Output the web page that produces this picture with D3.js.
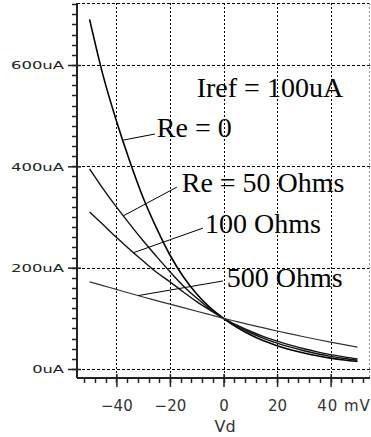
<!DOCTYPE html>
<html><head><meta charset="utf-8">
<script src="https://cdn.jsdelivr.net/npm/d3@7"></script>
<style>
html,body{margin:0;padding:0;background:#fff;}
svg{display:block;}
</style></head><body>
<svg id="chart" width="371" height="437"></svg>
<script>
// Collector current vs. differential input voltage, for several emitter resistors
const vd    = [-50, -45, -40, -35, -30, -25, -20, -15, -10, -5, 0, 5, 10, 15, 20, 25, 30, 35, 40, 45, 50];
const re0   = [690, 580, 490, 410, 338, 278, 225, 182, 148, 121, 100, 82, 67.5, 55.5, 46, 38, 31.5, 26, 21.5, 17.8, 14.8];
const re50  = [395, 356, 320, 286, 253, 222, 192, 164, 140, 118, 100, 84.5, 71.5, 60.5, 51, 43, 36, 30, 25, 20.8, 17.2];
const re100 = [310, 285, 260, 236, 213, 191, 172, 152, 133, 116, 100, 86.5, 74.5, 64, 55, 47, 40, 33.8, 28.4, 23.8, 19.8];
const re500 = [172, 164.5, 157, 149.5, 142, 135, 128, 121, 114, 107, 100, 93.5, 87, 81, 75, 69.2, 63.6, 58.2, 53, 48, 43.3];
const seriesNames = ["Re = 0", "Re = 50 Ohms", "100 Ohms", "500 Ohms"];
const yTickValues = [0, 200, 400, 600];
const xTickValues = [-40, -20, 0, 20, 40];
const titleText = "Iref = 100uA";
const xTitle = "Vd";

(function () {
  const series = [re0, re50, re100, re500].map((vals, i) => ({
    name: seriesNames[i],
    points: vd.map((v, j) => ({ v, i: vals[j] }))
  }));

  // plot frame
  const pLeft = 77, pRight = 370, pTop = 3, pBottom = 378;
  const x = d3.scaleLinear().domain([-54.7, 54.7]).range([pLeft, pRight]);
  const y = d3.scaleLinear().domain([-17.8, 722.4]).range([pBottom, pTop]);

  const svg = d3.select("#chart");

  // dotted grid
  const grid = svg.append("g").attr("stroke", "#000").attr("stroke-width", 1).attr("fill", "none");
  grid.selectAll("line.h").data(yTickValues.concat([y.domain()[1]])).join("line")
    .attr("x1", pLeft).attr("x2", pRight)
    .attr("y1", d => Math.round(y(d)) + 0.5).attr("y2", d => Math.round(y(d)) + 0.5)
    .attr("stroke-dasharray", "3,2");
  grid.selectAll("line.v").data(xTickValues).join("line")
    .attr("x1", d => Math.round(x(d)) + 0.5).attr("x2", d => Math.round(x(d)) + 0.5)
    .attr("y1", pTop).attr("y2", pBottom)
    .attr("stroke-dasharray", "2,2");
  grid.append("line")
    .attr("x1", pRight - 0.5).attr("x2", pRight - 0.5).attr("y1", pTop).attr("y2", pBottom)
    .attr("stroke", "#999").attr("stroke-dasharray", "2,2");

  // curves
  const line = d3.line().x(d => x(d.v)).y(d => y(d.i)).curve(d3.curveMonotoneX);
  const widths = [1.6, 1.4, 1.4, 1.2];
  const colors = ["#000", "#111", "#111", "#333"];
  svg.append("g").attr("fill", "none").selectAll("path").data(series).join("path")
    .attr("d", d => line(d.points))
    .attr("stroke", (d, i) => colors[i])
    .attr("stroke-width", (d, i) => widths[i]);

  // value of a series at an arbitrary Vd (linear between samples)
  function valueAt(s, v) {
    const p = s.points;
    const k = Math.max(1, Math.min(p.length - 1, d3.bisector(d => d.v).left(p, v)));
    const a = p[k - 1], b = p[k];
    return a.i + (b.i - a.i) * (v - a.v) / (b.v - a.v);
  }

  // callouts: label anchor and leader line end, in data units
  const callouts = [
    { label: [-24.9, 458.5], from: -37.6, to: [-25.6, 463.8] },
    { label: [-15.6, 350],   from: -37.4, to: [-17.4, 359] },
    { label: [-6.9, 267.8],  from: -33.6, to: [-7.7, 278] },
    { label: [1.2, 161.2],   from: -31.9, to: [-0.2, 173.7] }
  ];
  const ann = svg.append("g");
  callouts.forEach((c, i) => {
    ann.append("line")
      .attr("x1", x(c.from)).attr("y1", y(valueAt(series[i], c.from)))
      .attr("x2", x(c.to[0])).attr("y2", y(c.to[1]))
      .attr("stroke", "#000").attr("stroke-width", 1);
    ann.append("text")
      .attr("x", x(c.label[0])).attr("y", y(c.label[1]))
      .attr("font-family", "'Liberation Serif', 'Times New Roman', serif")
      .attr("font-size", 28).attr("fill", "#000")
      .text(series[i].name);
  });
  ann.append("text")
    .attr("x", x(-10.0)).attr("y", y(537.4))
    .attr("font-family", "'Liberation Serif', 'Times New Roman', serif")
    .attr("font-size", 28).attr("fill", "#000")
    .text(titleText);

  // left axis
  const yAxisG = svg.append("g").attr("transform", `translate(${pLeft},0)`);
  yAxisG.append("line").attr("x1", 0).attr("x2", 0).attr("y1", pTop).attr("y2", pBottom)
    .attr("stroke", "#222").attr("stroke-width", 2);
  yAxisG.selectAll("line.minor").data(d3.range(0, 721, 20)).join("line")
    .attr("x1", -5).attr("x2", 0)
    .attr("y1", d => Math.round(y(d)) + 0.5).attr("y2", d => Math.round(y(d)) + 0.5)
    .attr("stroke", "#222").attr("stroke-width", 1.5);
  const yAxis = d3.axisLeft(y).tickValues(yTickValues).tickSize(9).tickPadding(4)
    .tickFormat(d => d + "uA");
  const ya = svg.append("g").attr("transform", `translate(${pLeft},0)`).call(yAxis);
  ya.select(".domain").remove();
  ya.selectAll(".tick line").attr("x1", 4).attr("stroke", "#222").attr("stroke-width", 1.5);
  ya.selectAll(".tick text")
    .attr("font-family", "'DejaVu Sans', sans-serif").attr("font-size", 11).attr("fill", "#222")
    .attr("x", -13).attr("dy", "0.36em")
    .attr("textLength", function () { return this.textContent.length * 10.6; })
    .attr("lengthAdjust", "spacingAndGlyphs");

  // bottom axis
  const xAxisG = svg.append("g").attr("transform", `translate(0,${pBottom})`);
  xAxisG.append("line").attr("x1", pLeft).attr("x2", pRight).attr("y1", 0).attr("y2", 0)
    .attr("stroke", "#222").attr("stroke-width", 2);
  xAxisG.selectAll("line.minor").data(d3.range(-52, 53, 4)).join("line")
    .attr("x1", d => Math.round(x(d)) + 0.5).attr("x2", d => Math.round(x(d)) + 0.5)
    .attr("y1", 0).attr("y2", 5)
    .attr("stroke", "#222").attr("stroke-width", 1.5);
  const xAxis = d3.axisBottom(x).tickValues(xTickValues).tickSize(9)
    .tickFormat(d => d === 40 ? "40 mV" : d3.format("d")(d));
  const xa = svg.append("g").attr("transform", `translate(0,${pBottom})`).call(xAxis);
  xa.select(".domain").remove();
  xa.selectAll(".tick line").attr("y1", -4).attr("stroke", "#222").attr("stroke-width", 1.5);
  xa.selectAll(".tick text")
    .attr("font-family", "'DejaVu Sans', sans-serif").attr("font-size", 15).attr("fill", "#333")
    .attr("y", 33).attr("dy", 0)
    .attr("text-anchor", d => d === 40 ? "start" : "middle")
    .attr("x", d => d === 40 ? -14 : 0)
    .attr("letter-spacing", d => d === 40 ? 1 : 0);

  svg.append("text")
    .attr("x", x(0.6)).attr("y", 431.5).attr("text-anchor", "middle")
    .attr("font-family", "'DejaVu Sans', sans-serif").attr("font-size", 16).attr("fill", "#333")
    .text(xTitle);
})();
</script>
</body></html>
